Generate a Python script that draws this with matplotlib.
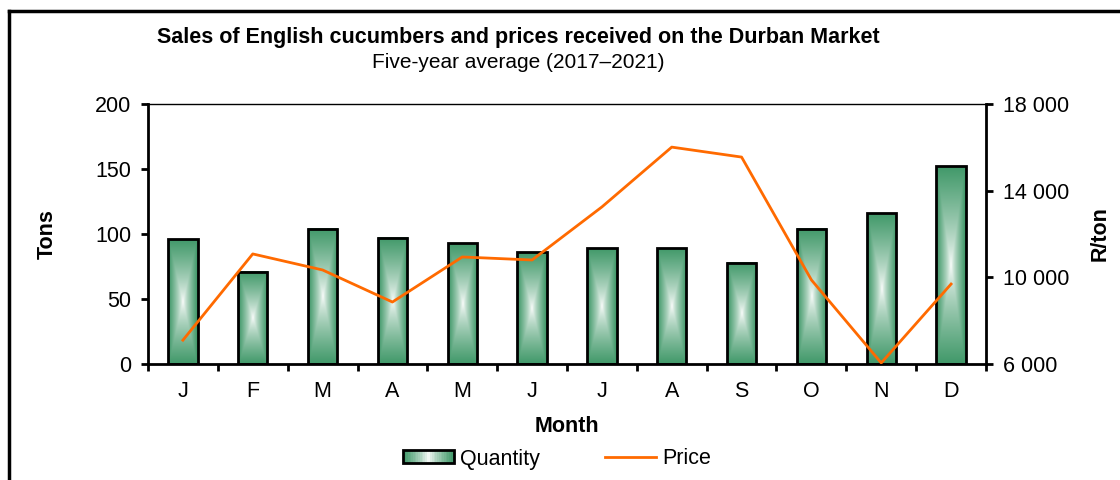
import numpy as np
import matplotlib.pyplot as plt
from matplotlib.patches import Rectangle
from matplotlib.lines import Line2D
from matplotlib.legend_handler import HandlerBase
from matplotlib.colors import to_rgb

plt.rcParams['font.family'] = ['Liberation Sans', 'DejaVu Sans']

# Five-year average values
months = ['J', 'F', 'M', 'A', 'M', 'J', 'J', 'A', 'S', 'O', 'N', 'D']
quantity = [96, 71, 104, 97, 93, 86, 89, 89, 78, 104, 116, 152]
price = [7100, 11080, 10340, 8860, 10940, 10800, 13250, 16010, 15550, 9880, 6050, 9690]

green = np.array(to_rgb('#3a9564'))
white = np.array([1.0, 1.0, 1.0])
orange = '#ff6a00'
fs = 15.5


def gradient_image(n=120):
    # rectangular "from centre" gradient: white in the middle, green at the edges
    u = np.linspace(-1, 1, n)
    v = np.linspace(-1, 1, n)
    uu, vv = np.meshgrid(u, v)
    t = np.maximum(np.abs(uu), np.abs(vv) * 0.95) ** 0.75
    return white * (1 - t[..., None]) + green * t[..., None]


class GradientHandler(HandlerBase):
    def create_artists(self, legend, orig_handle, xdescent, ydescent,
                       width, height, fontsize, trans):
        artists = []
        n = 30
        for i in range(n):
            t = abs((i + 0.5) / n * 2 - 1) ** 0.75
            c = white * (1 - t) + green * t
            r = Rectangle((-xdescent + width * i / n, -ydescent), width / n + 0.3, height,
                          facecolor=c, edgecolor='none', transform=trans)
            artists.append(r)
        edge = Rectangle((-xdescent, -ydescent), width, height, facecolor='none',
                         edgecolor='black', linewidth=2, transform=trans)
        artists.append(edge)
        return artists


fig = plt.figure(figsize=(11.2, 4.8), dpi=100)
ax = fig.add_axes([148 / 1120, 116 / 480, 838 / 1120, 260 / 480])
x = np.arange(len(months))
width = 0.42

img = gradient_image()
bars = ax.bar(x, quantity, width=width, facecolor='none', edgecolor='black',
              linewidth=2, zorder=3)
for b in bars:
    x0, y0 = b.get_x(), b.get_y()
    w, h = b.get_width(), b.get_height()
    ax.imshow(img, extent=[x0, x0 + w, y0, y0 + h], aspect='auto', zorder=2,
              interpolation='bilinear')

ax.set_xlim(-0.5, len(months) - 0.5)
ax.set_ylim(0, 200)
ax.set_yticks([0, 50, 100, 150, 200])
ax.set_xticks(x)
ax.set_xticklabels(months)
ax.set_xticks(np.arange(-0.5, len(months) + 0.5, 1), minor=True)
ax.tick_params(axis='x', which='major', length=0, pad=12, labelsize=fs)
ax.tick_params(axis='x', which='minor', length=5, width=2, direction='out')
ax.tick_params(axis='y', length=5, width=2, labelsize=fs, pad=7)
for s in ['left', 'bottom']:
    ax.spines[s].set_linewidth(2)
ax.spines['top'].set_linewidth(1)
ax.spines['right'].set_visible(False)

ax2 = ax.twinx()
ax2.plot(x, price, color=orange, linewidth=2, zorder=4)
ax2.set_ylim(6000, 18000)
ax2.set_yticks([6000, 10000, 14000, 18000])
ax2.set_yticklabels(['6 000', '10 000', '14 000', '18 000'])
ax2.tick_params(axis='y', length=5, width=2, labelsize=fs, pad=7)
ax2.spines['right'].set_linewidth(2)
for s in ['left', 'top', 'bottom']:
    ax2.spines[s].set_visible(False)

ax.set_ylabel('Tons', fontsize=fs, fontweight='bold', labelpad=27)
ax2.set_ylabel('R/ton', fontsize=fs, fontweight='bold', labelpad=15)
ax.set_xlabel('Month', fontsize=fs, fontweight='bold', labelpad=10)

fig.text(518 / 1120, 1 - 38 / 480, 'Sales of English cucumbers and prices received on the Durban Market',
         ha='center', va='center', fontsize=15.5, fontweight='bold')
fig.text(518 / 1120, 1 - 62 / 480, 'Five-year average (2017\u20132021)',
         ha='center', va='center', fontsize=15)

handles = [Rectangle((0, 0), 1, 1), Line2D([], [], color=orange, linewidth=2)]
fig.legend(handles, ['Quantity', 'Price'], loc='center', bbox_to_anchor=(557 / 1120, 21 / 480),
           ncol=2, frameon=False, fontsize=fs, handlelength=2.4, handleheight=0.56,
           handletextpad=0.28, columnspacing=3.0,
           handler_map={Rectangle: GradientHandler()})

# outer frame (top and left edges)
fig.add_artist(Line2D([9 / 1120, 1], [1 - 11 / 480, 1 - 11 / 480], color='black', linewidth=2.5,
                      transform=fig.transFigure))
fig.add_artist(Line2D([9 / 1120, 9 / 1120], [0, 1 - 11 / 480], color='black', linewidth=2.5,
                      transform=fig.transFigure))

fig.savefig('out.png', dpi=100)
